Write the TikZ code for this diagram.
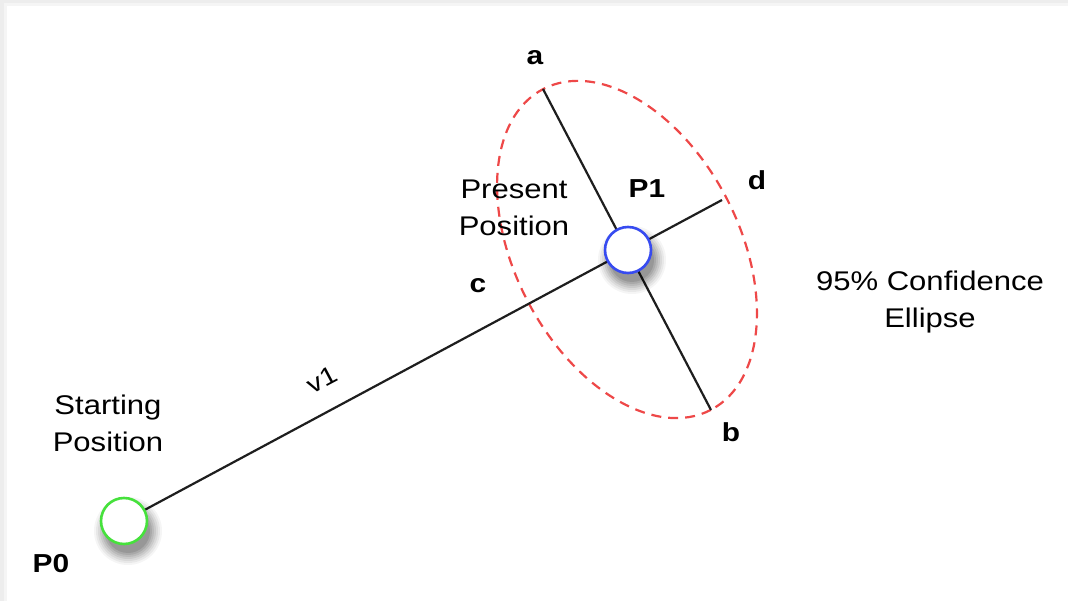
\documentclass[tikz,border=0pt]{standalone}
\usepackage{fontspec}
\setmainfont{Liberation Sans}[FakeStretch=1.15]
\definecolor{ellred}{RGB}{238,72,72}
\definecolor{startgreen}{RGB}{70,225,60}
\definecolor{presblue}{RGB}{55,75,240}
\definecolor{linegray}{RGB}{30,30,30}
\begin{document}
\begin{tikzpicture}[x=1pt,y=-1pt,
  lbl/.style={font=\fontsize{26}{30}\selectfont\bfseries, inner sep=0},
  txt/.style={font=\fontsize{27}{37}\selectfont, align=center, inner sep=0},
  axisline/.style={draw=linegray, line width=2.2},
  confell/.style={draw=ellred, line width=2.2, dash pattern=on 10pt off 7pt},
  posn/.style={circle, fill=white, line width=2.6, minimum size=46, inner sep=0},
]
\useasboundingbox (0,0) rectangle (1068,601);
% background frame
\fill[black!7] (0,0) rectangle (1068,601);
\fill[black!4] (4,3) rectangle (1068,601);
\fill[white] (7,6) rectangle (1068,601);

\coordinate (p0) at (124,521);
\coordinate (p1) at (628,250);
\coordinate (a) at (543,89);
\coordinate (b) at (711,410);
\coordinate (d) at (722,200);
\coordinate (E) at (627,249.5);

% confidence ellipse
\draw[confell, rotate around={-62.4:(E)}] (E) ellipse [x radius=181, y radius=112];

% lines
\draw[axisline] (p0) -- (d);
\draw[axisline] (a) -- (b);

% shadows
\foreach \r/\o in {34/0.04, 32/0.05, 30/0.06, 28/0.07, 26/0.08, 24/0.09, 22/0.1} {
  \fill[black, opacity=\o] ([shift={(4,10)}]p0) circle[radius=\r];
  \fill[black, opacity=\o] ([shift={(4,10)}]p1) circle[radius=\r];
}

% positions
\node[posn, draw=startgreen] (P0n) at (p0) {};
\node[posn, draw=presblue] (P1n) at (p1) {};

% labels
\node[lbl] (la) at (535,58) {a};
\node[lbl] (lb) at (731,432) {b};
\node[lbl] (lc) at (478,286) {c};
\node[lbl] (ld) at (757,180) {d};
\node[lbl] (lP1) at (647,189) {P1};
\node[lbl] (lP0) at (51,564) {P0};

\node[txt] (present) at (514,208) {Present\\Position};
\node[txt] (starting) at (108,423) {Starting\\Position};
\node[txt] (conf) at (930,302) {95\% Confidence\\Ellipse};
\node[font=\fontsize{25}{28}\selectfont, inner sep=0, rotate=28] (v1) at (322,380) {v1};
\end{tikzpicture}
\end{document}
